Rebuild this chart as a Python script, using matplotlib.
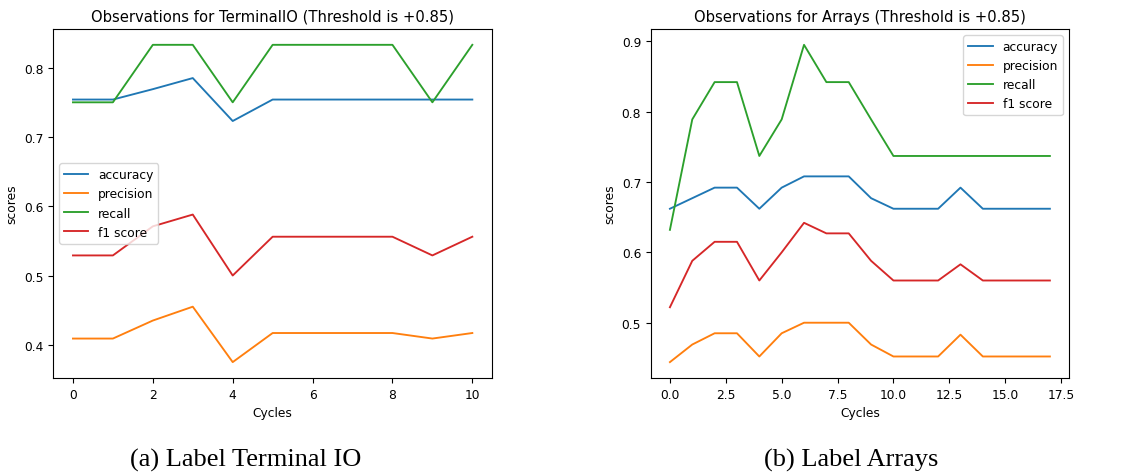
import numpy as np
import matplotlib
matplotlib.use("Agg")
import matplotlib.pyplot as plt

# TerminalIO observations
cycles_tio = list(range(11))
acc_tio = [0.754, 0.754, 0.769, 0.785, 0.723, 0.754, 0.754, 0.754, 0.754, 0.754, 0.754]
prec_tio = [0.409, 0.409, 0.435, 0.455, 0.375, 0.417, 0.417, 0.417, 0.417, 0.409, 0.417]
rec_tio = [0.750, 0.750, 0.833, 0.833, 0.750, 0.833, 0.833, 0.833, 0.833, 0.750, 0.833]
f1_tio = [0.529, 0.529, 0.571, 0.588, 0.500, 0.556, 0.556, 0.556, 0.556, 0.529, 0.556]

# Arrays observations
cycles_arr = list(range(18))
acc_arr = [0.662, 0.677, 0.692, 0.692, 0.662, 0.692, 0.708, 0.708, 0.708, 0.677,
           0.662, 0.662, 0.662, 0.692, 0.662, 0.662, 0.662, 0.662]
prec_arr = [0.444, 0.469, 0.485, 0.485, 0.452, 0.485, 0.500, 0.500, 0.500, 0.469,
            0.452, 0.452, 0.452, 0.483, 0.452, 0.452, 0.452, 0.452]
rec_arr = [0.632, 0.789, 0.842, 0.842, 0.737, 0.789, 0.895, 0.842, 0.842, 0.789,
           0.737, 0.737, 0.737, 0.737, 0.737, 0.737, 0.737, 0.737]
f1_arr = [0.522, 0.588, 0.615, 0.615, 0.560, 0.600, 0.642, 0.627, 0.627, 0.588,
          0.560, 0.560, 0.560, 0.583, 0.560, 0.560, 0.560, 0.560]

names = ['accuracy', 'precision', 'recall', 'f1 score']

fig = plt.figure(figsize=(11.47, 4.77), dpi=100)
ax1 = fig.add_axes([0.0462, 0.2055, 0.383, 0.7317])
ax2 = fig.add_axes([0.5675, 0.2055, 0.3644, 0.7317])

def draw(ax, x, series, title, loc):
	for s, n in zip(series, names):
		ax.plot(x, s, label=n, lw=1.35)
	ax.set_title(title, fontsize=10.6)
	ax.set_xlabel('Cycles', fontsize=8.8)
	ax.set_ylabel('scores', fontsize=8.8)
	ax.tick_params(labelsize=8.8)
	ax.legend(loc=loc, fontsize=8.8)

draw(ax1, cycles_tio, [acc_tio, prec_tio, rec_tio, f1_tio],
     'Observations for TerminalIO (Threshold is +0.85)', 'center left')
draw(ax2, cycles_arr, [acc_arr, prec_arr, rec_arr, f1_arr],
     'Observations for Arrays (Threshold is +0.85)', 'upper right')

fig.text(0.2145, 0.022, '(a) Label Terminal IO', ha='center', fontsize=19,
         family='Liberation Serif')
fig.text(0.742, 0.022, '(b) Label Arrays', ha='center', fontsize=19,
         family='Liberation Serif')

fig.savefig('out.png', dpi=100)
